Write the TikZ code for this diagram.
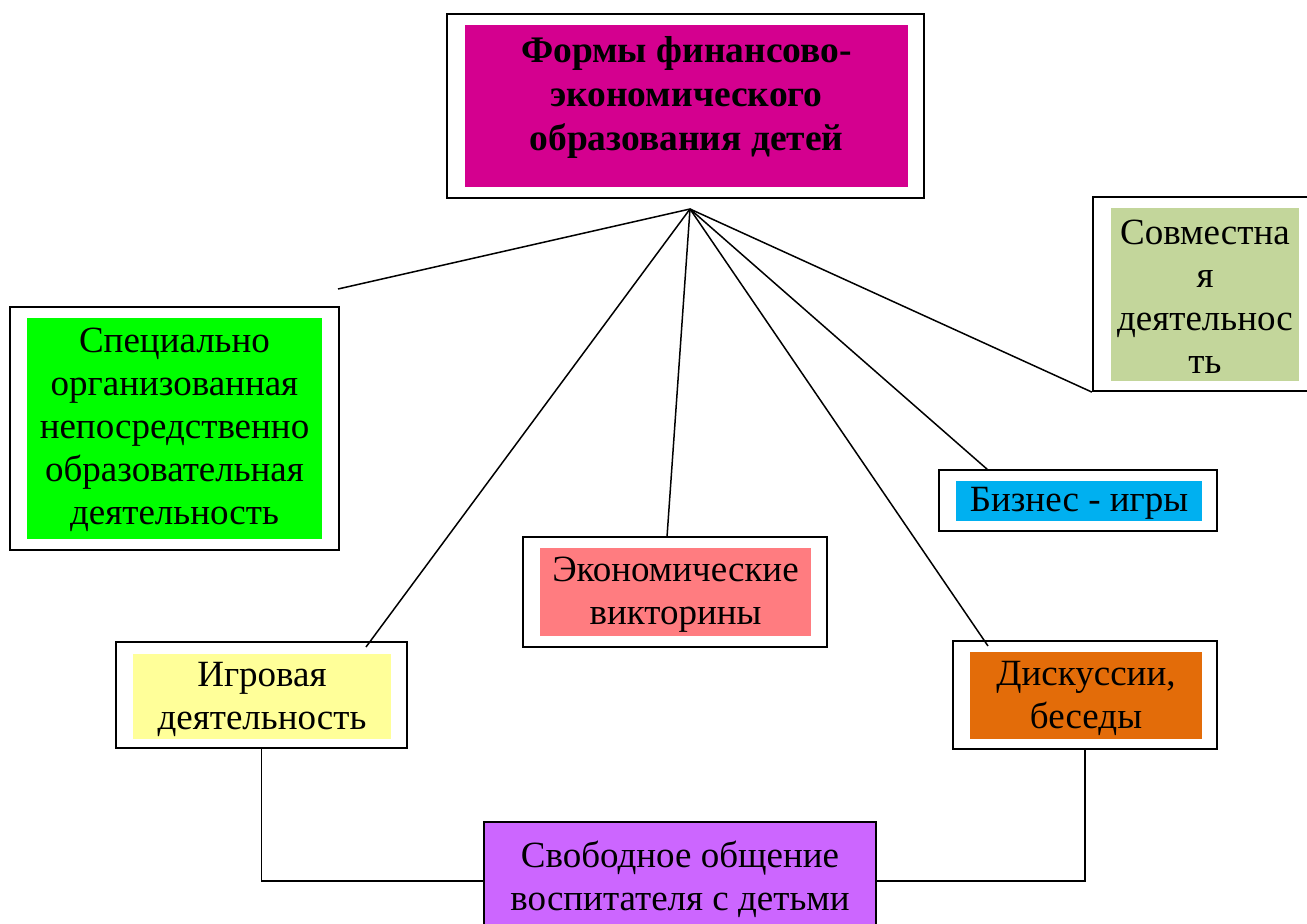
\documentclass[tikz,border=0pt]{standalone}
\usepackage{fontspec}
\setmainfont{Liberation Serif}
\begin{document}
\begin{tikzpicture}[x=1pt,y=-1pt,
  outerbox/.style={draw=black,line width=2.2pt,fill=white,inner sep=0pt},
  innerbox/.style={draw=none,inner sep=0pt},
  txt/.style={align=center,inner sep=0pt,font=\fontsize{37}{43}\selectfont},
  conn/.style={draw=black,line width=1.5pt}]
\definecolor{cTitle}{RGB}{212,0,143}
\definecolor{cGreen}{RGB}{0,255,0}
\definecolor{cSov}{RGB}{195,214,155}
\definecolor{cBiz}{RGB}{0,176,240}
\definecolor{cDisk}{RGB}{227,108,9}
\definecolor{cEkon}{RGB}{255,124,128}
\definecolor{cIgr}{RGB}{255,255,153}
\definecolor{cSvob}{RGB}{204,102,255}
\useasboundingbox (0,0) rectangle (1307,924);

% title
\node[outerbox,line width=2.8pt,minimum width=477pt,minimum height=184pt] (title) at (685.5,106) {};
\node[innerbox,fill=cTitle,minimum width=443pt,minimum height=162pt] (titlein) at (686.5,106) {};
\node[txt,font=\fontsize{37.5}{44}\selectfont\bfseries] (titletxt) at (686.5,97) {Формы финансово-\\экономического\\образования детей};

% green
\node[outerbox,minimum width=329pt,minimum height=243pt] (spec) at (174.5,428.5) {};
\node[innerbox,fill=cGreen,minimum width=295pt,minimum height=221pt] (specin) at (174.5,428.5) {};
\node[txt] (spectxt) at (174.5,430) {Специально\\организованная\\непосредственно\\образовательная\\деятельность};

% sovmestnaya
\node[outerbox,minimum width=227pt,minimum height=194pt] (sov) at (1206.5,294) {};
\node[innerbox,fill=cSov,minimum width=188pt,minimum height=173pt] (sovin) at (1205,294.5) {};
\node[txt] (sovtxt) at (1205,297) {Совместна\\я\\деятельнос\\ть};

% biznes
\node[outerbox,minimum width=278pt,minimum height=61pt] (biz) at (1078,500.5) {};
\node[innerbox,fill=cBiz,minimum width=246pt,minimum height=40pt] (bizin) at (1079,501) {};
\node[txt] (biztxt) at (1079,503) {Бизнес - игры};

% diskussii
\node[outerbox,minimum width=264pt,minimum height=108pt] (disk) at (1085,695) {};
\node[innerbox,fill=cDisk,minimum width=232pt,minimum height=87pt] (diskin) at (1086,695.5) {};
\node[txt] (disktxt) at (1086,698) {Дискуссии,\\беседы};

% ekonomicheskie
\node[outerbox,minimum width=304pt,minimum height=110pt] (ekon) at (675,592) {};
\node[innerbox,fill=cEkon,minimum width=271pt,minimum height=88pt] (ekonin) at (675.5,592) {};
\node[txt] (ekontxt) at (675.5,595) {Экономические\\викторины};

% igrovaya
\node[outerbox,minimum width=291pt,minimum height=106pt] (igr) at (261.5,695) {};
\node[innerbox,fill=cIgr,minimum width=258pt,minimum height=85pt] (igrin) at (262,696.5) {};
\node[txt] (igrtxt) at (262,699.5) {Игровая\\деятельность};

% svobodnoe
\node[outerbox,fill=cSvob,line width=1.6pt,minimum width=392pt,minimum height=118pt] (svob) at (680,881) {};
\node[txt] (svobtxt) at (680,879) {Свободное общение\\воспитателя с детьми};

% connectors
\coordinate (hub) at (690,209);
\coordinate (freeend) at (338,289);
\coordinate (igrtop) at (366,647);
\coordinate (ekontop) at (667,537);
\coordinate (disktop) at (988,646);
\coordinate (biztop) at (988,470);
\draw[conn] (hub) -- (freeend);
\draw[conn] (hub) -- (igrtop);
\draw[conn] (hub) -- (ekontop);
\draw[conn] (hub) -- (disktop);
\draw[conn] (hub) -- (biztop);
\draw[conn] (hub) -- (sov.south west);
\draw[conn] (igr.south) |- (svob.west);
\draw[conn] (disk.south) |- (svob.east);
\end{tikzpicture}
\end{document}
